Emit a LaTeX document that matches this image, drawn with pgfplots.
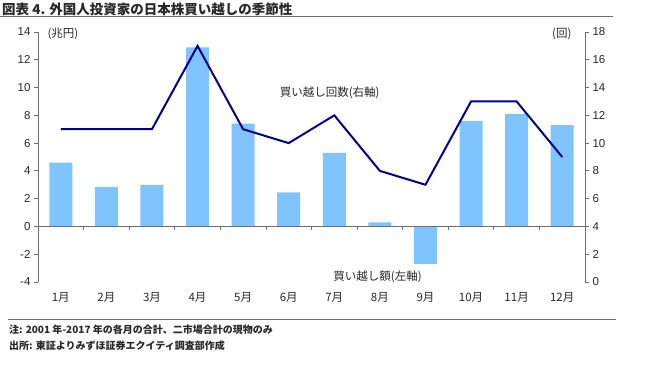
\documentclass[border=0pt]{standalone}
\usepackage{pgfplots}
\pgfplotsset{compat=1.18}
\usepackage{fontspec}
\setmainfont{Liberation Sans}
\newfontfamily\jp{Noto Sans CJK JP}
\definecolor{barblue}{RGB}{128,196,255}
\definecolor{navy}{RGB}{0,0,140}
\definecolor{axgray}{RGB}{110,110,110}
\definecolor{txt}{RGB}{40,40,40}
\begin{document}
\begin{tikzpicture}[x=1pt,y=1pt]
\path[use as bounding box] (0,0) rectangle (650,370);
\node[anchor=west,inner sep=0,text=txt] at (2,361) {\fontsize{13.5}{15}\jp\bfseries 図表 4. 外国人投資家の日本株買い越しの季節性};
\draw[axgray,line width=1pt] (0,353.5) -- (613,353.5);
\begin{axis}[
  at={(38pt,88pt)}, anchor=south west,
  scale only axis, width=547pt, height=250pt,
  xmin=-0.5, xmax=11.5, ymin=-4, ymax=14,
  axis x line*=bottom,
  x axis line style={draw=none},
  axis y line*=left,
  y axis line style={axgray,line width=0.8pt,-},
  ytick={-4,-2,...,14},
  xtick={0,...,11},
  xticklabels={1月,2月,3月,4月,5月,6月,7月,8月,9月,10月,11月,12月},
  xticklabel style={font=\fontsize{11.5}{13}\jp,text=txt,yshift=-3pt},
  x tick style={draw=none},
  y tick style={axgray,line width=0.8pt},
  major tick length=4pt,
  tick align=outside,
  yticklabel style={font=\fontsize{11.5}{13}\selectfont,text=txt},
  /pgf/number format/assume math mode=true,
  clip=false,
]
\addplot[ybar, bar width=23pt, fill=barblue, draw=none] coordinates {
 (0,4.6) (1,2.85) (2,3.0) (3,12.9) (4,7.4) (5,2.45) (6,5.3) (7,0.3) (8,-2.7) (9,7.6) (10,8.1) (11,7.3)};
\draw[axgray,line width=0.8pt] (axis cs:-0.5,0) -- (axis cs:11.5,0);
\pgfplotsinvokeforeach{0.5,1.5,2.5,3.5,4.5,5.5,6.5,7.5,8.5,9.5,10.5}{\draw[axgray,line width=0.8pt] (axis cs:#1,0) -- ([yshift=-4pt]axis cs:#1,0);}
\node[anchor=west,text=txt,font=\fontsize{11.5}{13}\jp] at ([xshift=6pt,yshift=-2pt]axis cs:-0.5,14) {(兆円)};
\node[text=txt,font=\fontsize{11.5}{13}\jp] at ([yshift=-61pt]axis cs:5.9,14) {買い越し回数(右軸)};
\node[text=txt,font=\fontsize{11.5}{13}\jp] at ([yshift=5pt]axis cs:6.95,-4) {買い越し額(左軸)};
\end{axis}
\begin{axis}[
  at={(38pt,88pt)}, anchor=south west,
  scale only axis, width=547pt, height=250pt,
  xmin=-0.5, xmax=11.5, ymin=0, ymax=18,
  axis x line=none,
  axis y line*=right,
  y axis line style={axgray,line width=0.8pt,-},
  ytick={0,2,...,18},
  tick style={axgray,line width=0.8pt},
  major tick length=4pt,
  tick align=outside,
  yticklabel style={font=\fontsize{11.5}{13}\selectfont,text=txt},
  /pgf/number format/assume math mode=true,
  clip=false,
]
\addplot[navy, line width=2pt, mark=none] coordinates {
 (0,11) (1,11) (2,11) (3,17) (4,11) (5,10) (6,12) (7,8) (8,7) (9,13) (10,13) (11,9)};
\node[anchor=east,text=txt,font=\fontsize{11.5}{13}\jp] at ([xshift=-10pt,yshift=-2pt]axis cs:11.5,18) {(回)};
\end{axis}
\draw[axgray,line width=1pt] (8,50.5) -- (616,50.5);
\node[anchor=west,inner sep=0,text=txt,font=\fontsize{10}{11}\jp\bfseries] at (9,40) {注: 2001 年-2017 年の各月の合計、二市場合計の現物のみ};
\node[anchor=west,inner sep=0,text=txt,font=\fontsize{10}{11}\jp\bfseries] at (9,24) {出所: 東証よりみずほ証券エクイティ調査部作成};
\end{tikzpicture}
\end{document}
